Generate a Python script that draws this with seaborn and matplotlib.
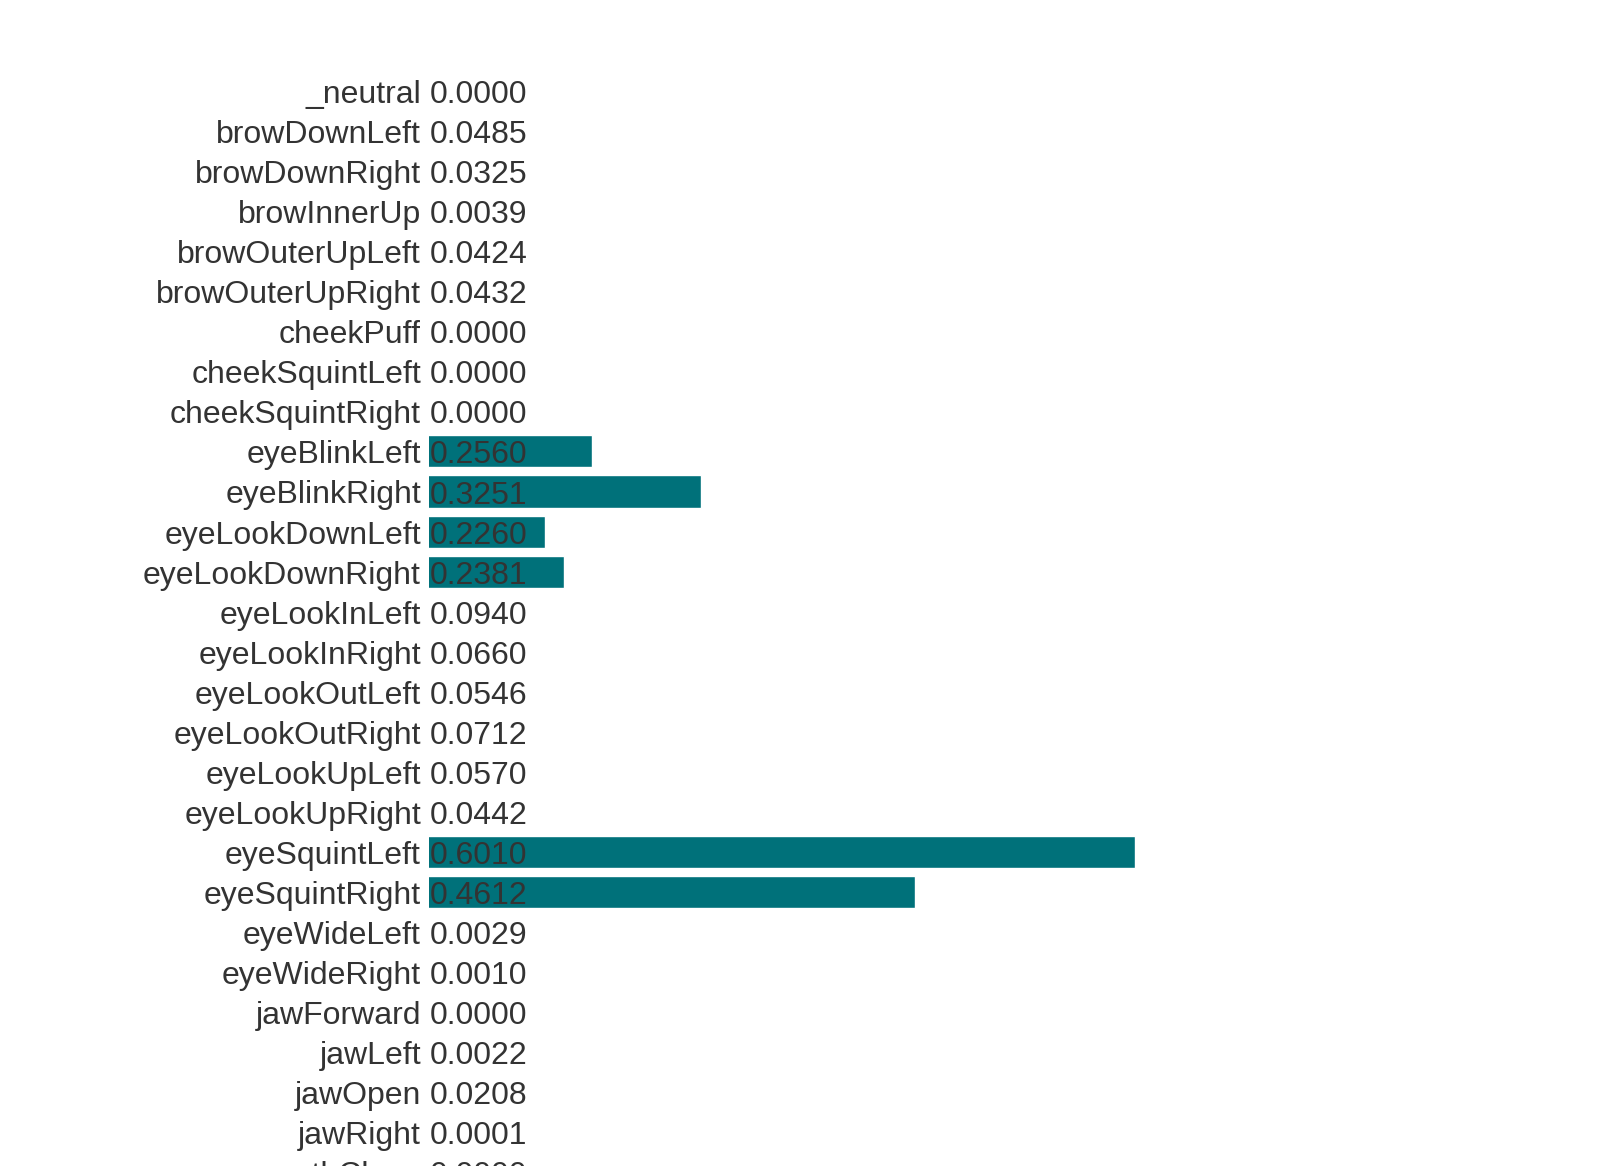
import matplotlib
matplotlib.use('Agg')
import matplotlib.pyplot as plt
import seaborn as sns

names = ['_neutral', 'browDownLeft', 'browDownRight', 'browInnerUp', 'browOuterUpLeft',
         'browOuterUpRight', 'cheekPuff', 'cheekSquintLeft', 'cheekSquintRight',
         'eyeBlinkLeft', 'eyeBlinkRight', 'eyeLookDownLeft', 'eyeLookDownRight',
         'eyeLookInLeft', 'eyeLookInRight', 'eyeLookOutLeft', 'eyeLookOutRight',
         'eyeLookUpLeft', 'eyeLookUpRight', 'eyeSquintLeft', 'eyeSquintRight',
         'eyeWideLeft', 'eyeWideRight', 'jawForward', 'jawLeft', 'jawOpen', 'jawRight',
         'mouthClose']
scores = [0.0000, 0.0485, 0.0325, 0.0039, 0.0424, 0.0432, 0.0000, 0.0000, 0.0000,
          0.2560, 0.3251, 0.2260, 0.2381, 0.0940, 0.0660, 0.0546, 0.0712, 0.0570,
          0.0442, 0.6010, 0.4612, 0.0029, 0.0010, 0.0000, 0.0022, 0.0208, 0.0001,
          0.0000]

W, H = 1612, 1166
bar_left_px = 429
px_per_unit = 1574      # 100% of the bar container
offset = 0.1523         # css "calc(score*100% - 120px)" shift
row_px = 40.05
first_row_px = 91

sns.set_theme(style='white')
plt.rcParams['font.family'] = ['Liberation Sans', 'DejaVu Sans']

fig = plt.figure(figsize=(W / 100, H / 100), dpi=100)
fig.patch.set_facecolor('white')
ax = fig.add_axes([bar_left_px / W, 0, 1 - bar_left_px / W, 1])

sns.barplot(x=scores, y=names, orient='h', color='#00717a', saturation=1,
            width=0.8, ax=ax)

ax_w = W - bar_left_px
ax.set_xlim(offset, offset + ax_w / px_per_unit)
ax.set_ylim((H - first_row_px) / row_px, -first_row_px / row_px)
ax.axis('off')

base = 12 / row_px
for i, (n, s) in enumerate(zip(names, scores)):
    ax.annotate(n, xy=(0, i + base), xycoords=ax.get_yaxis_transform(),
                xytext=(-8, 0), textcoords='offset pixels', ha='right',
                va='baseline', fontsize=23, color='#333333', annotation_clip=False)
    ax.annotate(f'{s:.4f}', xy=(0, i + base), xycoords=ax.get_yaxis_transform(),
                xytext=(1, 0), textcoords='offset pixels', ha='left',
                va='baseline', fontsize=23, color='#333333', annotation_clip=False)

fig.savefig('out.png', dpi=100, facecolor='white')
